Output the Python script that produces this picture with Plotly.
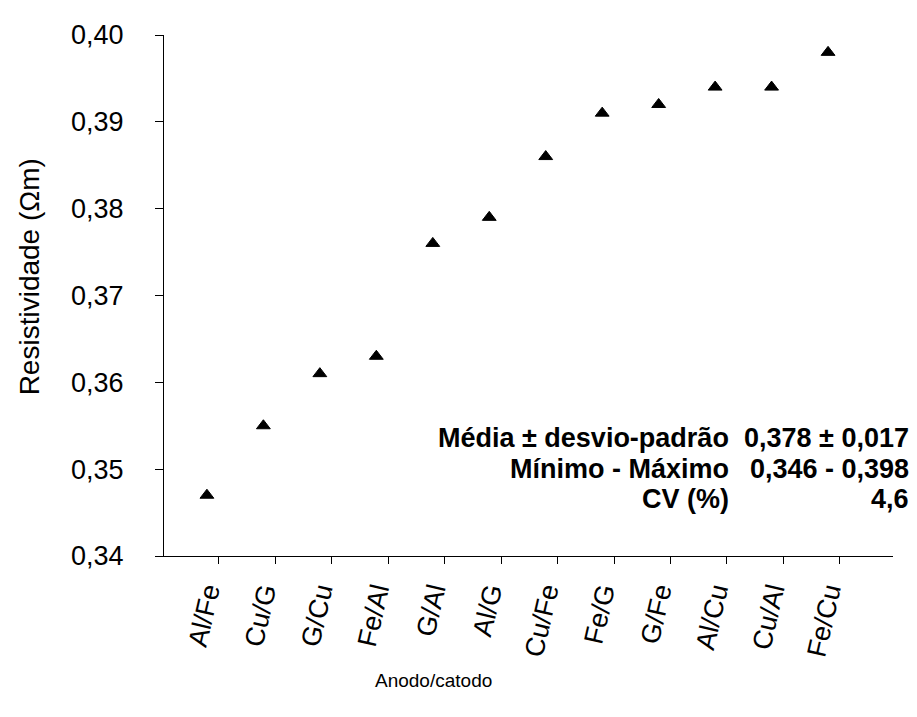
import plotly.graph_objects as go

categories = ["Al/Fe", "Cu/G", "G/Cu", "Fe/Al", "G/Al", "Al/G",
              "Cu/Fe", "Fe/G", "G/Fe", "Al/Cu", "Cu/Al", "Fe/Cu"]
resistividade = [0.347, 0.355, 0.361, 0.363, 0.376, 0.379,
                 0.386, 0.391, 0.392, 0.394, 0.394, 0.398]
y_tickvals = [0.34, 0.35, 0.36, 0.37, 0.38, 0.39, 0.40]
y_ticktext = ["0,34", "0,35", "0,36", "0,37", "0,38", "0,39", "0,40"]
stats_labels = ["Média ± desvio-padrão", "Mínimo - Máximo", "CV (%)"]
stats_values = ["0,378 ± 0,017", "0,346 - 0,398", "4,6"]

FONT = "Liberation Sans, Arial, sans-serif"
OFF = 8  # page body margin
W, H = 917 - OFF, 717 - OFF
L, R, T, B = 164 - OFF, 24, 25 - OFF, 161
pw, ph = W - L - R, H - T - B

idx = list(range(len(categories)))
xrange_ = [-0.76, len(categories) + 0.15]
tick_offset = 0.21

fig = go.Figure()
fig.add_trace(go.Scatter(
    x=idx, y=resistividade, mode="markers",
    marker=dict(symbol="triangle-up", size=12, color="black",
                line=dict(color="black", width=1)),
    showlegend=False, hoverinfo="skip"))
# invisible companion trace so the label axis is drawn
fig.add_trace(go.Scatter(
    x=idx, y=resistividade, mode="markers", xaxis="x2",
    marker=dict(size=1, opacity=0), showlegend=False, hoverinfo="skip"))

fig.update_layout(
    width=W, height=H,
    margin=dict(l=L, r=R, t=T, b=B),
    paper_bgcolor="white", plot_bgcolor="white",
    font=dict(family=FONT, color="black"),
    xaxis=dict(range=xrange_, showgrid=False, zeroline=False,
               showline=True, linecolor="black", linewidth=1,
               tickvals=[i + tick_offset for i in idx], ticks="outside",
               ticklen=7, tickcolor="black", tickwidth=1,
               showticklabels=False),
    xaxis2=dict(range=xrange_, overlaying="x", side="bottom", anchor="y",
                showgrid=False, zeroline=False, showline=False,
                tickvals=idx, ticktext=categories, ticks="outside",
                ticklen=8, tickcolor="rgba(0,0,0,0)", tickangle=-77,
                tickfont=dict(size=27, family=FONT, color="black")),
    yaxis=dict(range=[0.34, 0.40], showgrid=False, zeroline=False,
               showline=True, linecolor="black", linewidth=1,
               tickvals=y_tickvals, ticktext=y_ticktext, ticks="outside",
               ticklen=8, tickcolor="black", tickwidth=1,
               ticklabelstandoff=26,
               tickfont=dict(size=27, family=FONT, color="black")),
)

def px_to_paper(px, py):
    # px, py in window pixel coordinates
    return (px - OFF - L) / pw, (H - B - (py - OFF)) / ph

annotations = []
ax, ay = px_to_paper(29, 272)
annotations.append(dict(x=ax, y=ay, xref="paper", yref="paper",
                        text="Resistividade (Ωm)", textangle=-90, showarrow=False,
                        xanchor="center", yanchor="middle",
                        font=dict(size=28, family=FONT, color="black")))
ax, ay = px_to_paper(433, 683)
annotations.append(dict(x=ax, y=ay, xref="paper", yref="paper",
                        text="Anodo/catodo", showarrow=False,
                        xanchor="center", yanchor="middle",
                        font=dict(size=19, family=FONT, color="black")))
rows_y = [436, 467, 498]
for lab, val, ry in zip(stats_labels, stats_values, rows_y):
    x1, y1 = px_to_paper(731, ry)
    x2, _ = px_to_paper(911, ry)
    annotations.append(dict(x=x1, y=y1, xref="paper", yref="paper", text="<b>%s</b>" % lab,
                            showarrow=False, xanchor="right", yanchor="middle",
                            font=dict(size=27, family=FONT, color="black")))
    annotations.append(dict(x=x2, y=y1, xref="paper", yref="paper", text="<b>%s</b>" % val,
                            showarrow=False, xanchor="right", yanchor="middle",
                            font=dict(size=27, family=FONT, color="black")))
fig.update_layout(annotations=annotations)

fig.write_html("out.html")
